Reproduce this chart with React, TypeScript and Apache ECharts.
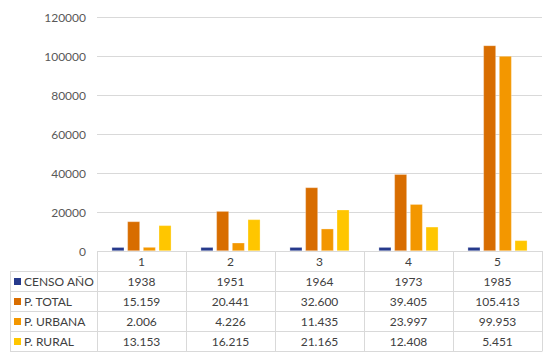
import React, { useEffect, useRef } from "react";
import * as echarts from "echarts";

const categories = ["1", "2", "3", "4", "5"];
const seriesNames = ["CENSO AÑO", "P. TOTAL", "P. URBANA", "P. RURAL"];
const censoAnio = [1938, 1951, 1964, 1973, 1985];
const pTotal = [15159, 20441, 32600, 39405, 105413];
const pUrbana = [2006, 4226, 11435, 23997, 99953];
const pRural = [13153, 16215, 21165, 12408, 5451];
const seriesData = [censoAnio, pTotal, pUrbana, pRural];
const colors = ["#263A8C", "#D86D00", "#F39700", "#FFC600"];
const yTicks = { min: 0, max: 120000, interval: 20000 };

function fmt(v: number, group: boolean): string {
  if (!group) return String(v);
  const s = String(v);
  return s.replace(/\B(?=(\d{3})+(?!\d))/g, ".");
}

export default function App() {
  const ref = useRef<HTMLDivElement>(null);
  useEffect(() => {
    if (!ref.current) return;
    const chart = echarts.init(ref.current, undefined, { renderer: "svg" });
    const left = 97;
    const right = 542;
    const bw = (right - left) / categories.length;
    const tableLeft = 10;
    const headerTop = 251;
    const rowH = 20;
    const lineColor = "#D9D9D9";
    const font = "Lato, 'Open Sans', sans-serif";
    const g: any[] = [];
    for (let r = 1; r <= seriesNames.length + 1; r++) {
      const y = headerTop + r * rowH + 0.5;
      g.push({ type: "line", shape: { x1: tableLeft, y1: y, x2: right, y2: y }, style: { stroke: lineColor, lineWidth: 1 }, silent: true });
    }
    g.push({ type: "line", shape: { x1: left, y1: headerTop + 0.5, x2: right, y2: headerTop + 0.5 }, style: { stroke: lineColor, lineWidth: 1 }, silent: true });
    g.push({ type: "line", shape: { x1: tableLeft + 0.5, y1: headerTop + rowH, x2: tableLeft + 0.5, y2: headerTop + rowH * 5 + 0.5 }, style: { stroke: lineColor, lineWidth: 1 }, silent: true });
    for (let i = 0; i <= categories.length; i++) {
      const x = Math.round(left + i * bw) + 0.5;
      g.push({ type: "line", shape: { x1: x, y1: headerTop, x2: x, y2: headerTop + rowH * 5 + 0.5 }, style: { stroke: lineColor, lineWidth: 1 }, silent: true });
    }
    categories.forEach((c, i) => {
      g.push({ type: "text", x: left + (i + 0.5) * bw, y: headerTop + rowH / 2 + 0.5, style: { text: c, fill: "#404040", font: `12px ${font}`, textAlign: "center", textVerticalAlign: "middle" }, silent: true });
    });
    seriesNames.forEach((name, r) => {
      const cy = headerTop + rowH * (r + 1) + rowH / 2 + 0.5;
      g.push({ type: "rect", shape: { x: 14, y: cy - 3.5, width: 7, height: 7 }, style: { fill: colors[r] }, silent: true });
      g.push({ type: "text", x: 24, y: cy, style: { text: name, fill: "#404040", font: `12px ${font}`, textAlign: "left", textVerticalAlign: "middle" }, silent: true });
      seriesData[r].forEach((v, i) => {
        g.push({ type: "text", x: left + (i + 0.5) * bw, y: cy, style: { text: fmt(v, r > 0), fill: "#404040", font: `12px ${font}`, textAlign: "center", textVerticalAlign: "middle" }, silent: true });
      });
    });

    chart.setOption({
      animation: false,
      textStyle: { fontFamily: font },
      grid: { left: left, right: 550 - right, top: 17, bottom: 362 - headerTop, containLabel: false },
      xAxis: {
        type: "category",
        data: categories,
        axisLine: { show: false },
        axisTick: { show: false },
        axisLabel: { show: false },
        splitLine: { show: false },
      },
      yAxis: {
        type: "value",
        min: yTicks.min,
        max: yTicks.max,
        interval: yTicks.interval,
        axisLine: { show: false },
        axisTick: { show: false },
        axisLabel: { color: "#595959", fontSize: 12, margin: 11, fontFamily: font, formatter: (v: number) => String(v) },
        splitLine: { lineStyle: { color: lineColor, width: 1 } },
      },
      series: seriesNames.map((name, r) => ({
        name,
        type: "bar",
        data: seriesData[r],
        barCategoryGap: "33%",
        barGap: "25%",
        itemStyle: { color: colors[r], borderColor: "rgba(255,255,255,0.6)", borderWidth: 0.5 },
      })),
      graphic: g,
    });
    return () => chart.dispose();
  }, []);
  return <div ref={ref} style={{ width: 550, height: 362, position: "absolute", left: 0, top: 0 }} />;
}
